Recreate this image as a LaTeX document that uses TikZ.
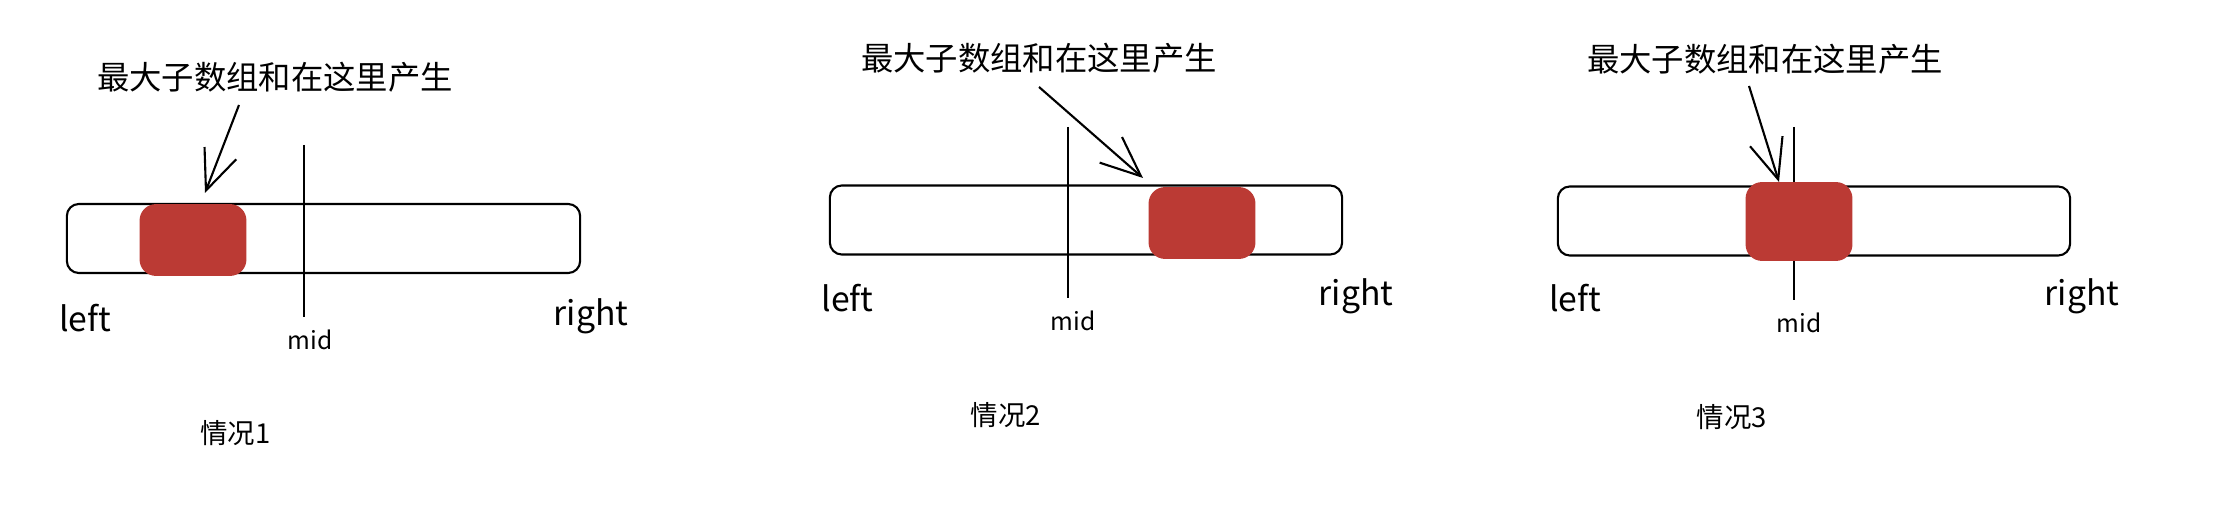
\documentclass[tikz,border=0pt]{standalone}
\usepackage{fontspec}
\setmainfont{Noto Sans CJK SC}
\usetikzlibrary{arrows.meta,positioning}
\definecolor{hotred}{RGB}{187,58,52}

\begin{document}
\begin{tikzpicture}[x=0.01cm,y=-0.01cm,>=Latex,
  bar/.style={draw,line width=0.6pt,rounded corners=0.12cm,inner sep=0pt,minimum height=0.69cm},
  hot/.style={draw=hotred,fill=hotred,line width=0.8pt,rounded corners=0.15cm,inner sep=0pt,minimum width=1.04cm},
  note/.style={font=\fontsize{9.2}{10}\selectfont,inner sep=0pt},
  tag/.style={font=\fontsize{9.6}{10}\selectfont,inner sep=0pt},
  midtag/.style={font=\fontsize{7}{8}\selectfont,inner sep=0pt},
  caption/.style={font=\fontsize{7.8}{9}\selectfont,inner sep=0pt},
  pointer/.style={-{Straight Barb[length=4mm,width=3.4mm]},line width=0.6pt},
  cut/.style={line width=0.6pt}]
\useasboundingbox (0,0) rectangle (2236,528);

\node[note] (t1) at (275,77) {最大子数组和在这里产生};
\node[bar,minimum width=5.13cm] (bar1) at (323.5,238.5) {};
\draw[cut] (304,145) -- (304,317);
\node[hot,minimum height=0.69cm] (blk1) at (193,240) {};
\coordinate (a1s) at (239,105);
\coordinate (a1e) at (205,193);
\draw[pointer] (a1s) -- (a1e);
\node[tag] (l1) at (85,318) {left};
\node[midtag] (m1) at (310,340) {mid};
\node[tag] (r1) at (591,316) {right};
\node[caption] (c1) at (235.5,433) {情况1};

\node[note] (t2) at (1039,58) {最大子数组和在这里产生};
\node[bar,minimum width=5.12cm] (bar2) at (1086,220) {};
\draw[cut] (1068,127) -- (1068,298);
\node[hot,minimum height=0.69cm] (blk2) at (1202,223) {};
\coordinate (a2s) at (1039,87);
\coordinate (a2e) at (1143,178);
\draw[pointer] (a2s) -- (a2e);
\node[tag] (l2) at (847.5,298) {left};
\node[midtag] (m2) at (1073,321) {mid};
\node[tag] (r2) at (1356,296) {right};
\node[caption] (c2) at (1006,415) {情况2};

\node[note] (t3) at (1765,59) {最大子数组和在这里产生};
\node[bar,minimum width=5.12cm] (bar3) at (1814,221) {};
\draw[cut] (1794,127) -- (1794,300);
\node[hot,minimum height=0.76cm] (blk3) at (1799,221.5) {};
\coordinate (a3s) at (1749,86);
\coordinate (a3e) at (1779,182);
\draw[pointer] (a3s) -- (a3e);
\node[tag] (l3) at (1575,298) {left};
\node[midtag] (m3) at (1799,323) {mid};
\node[tag] (r3) at (2082,296) {right};
\node[caption] (c3) at (1732,417) {情况3};
\end{tikzpicture}
\end{document}
